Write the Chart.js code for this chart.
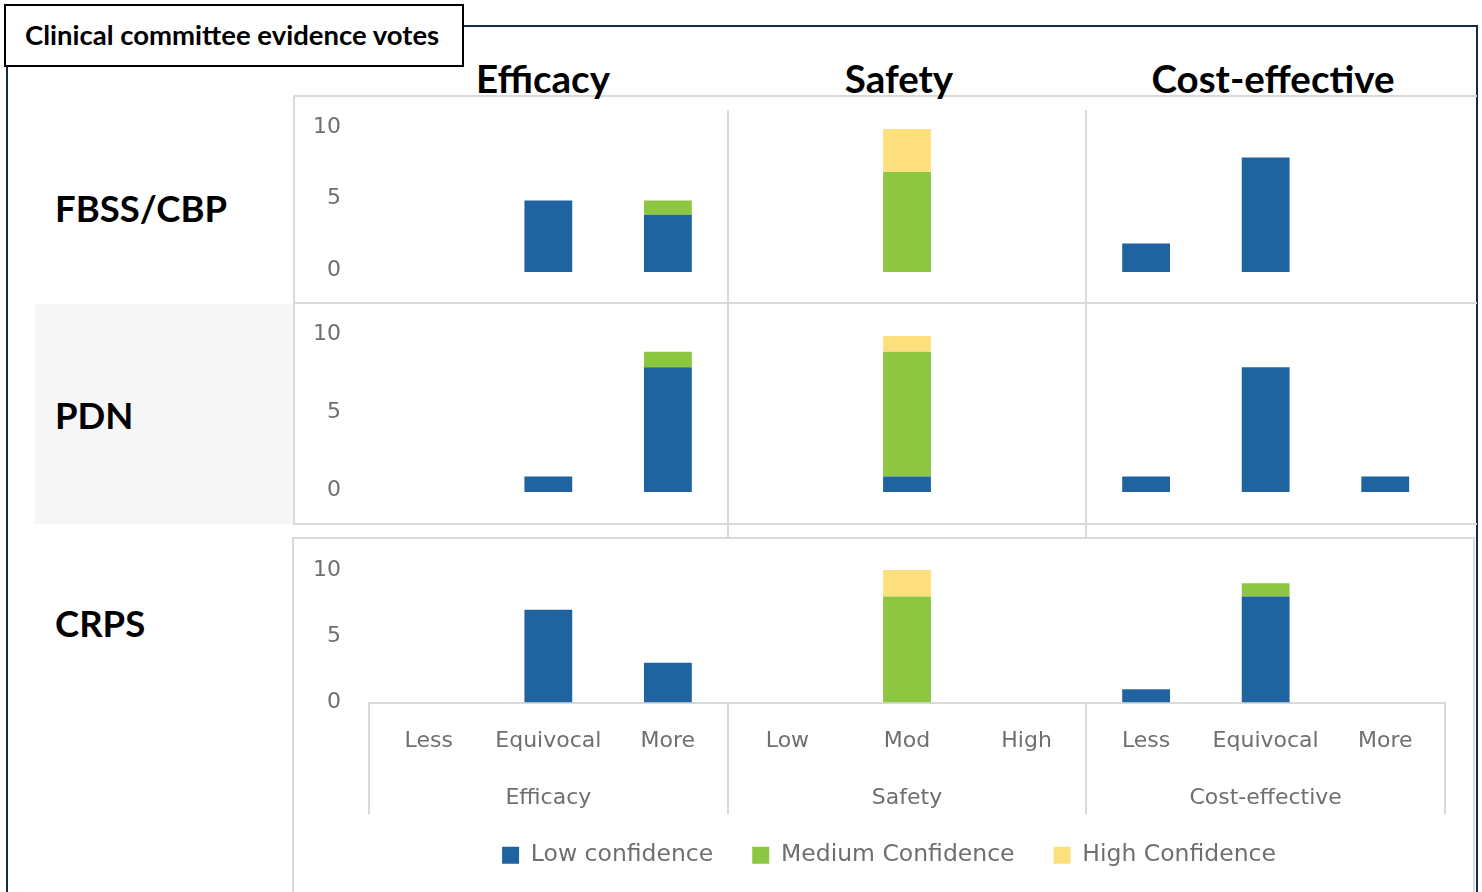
<!DOCTYPE html>
<html><head><meta charset="utf-8">
<script src="https://cdn.jsdelivr.net/npm/chart.js@4.4.1/dist/chart.umd.min.js"></script>
<style>
html,body{margin:0;padding:0;background:#fff;width:1482px;height:892px;overflow:hidden;position:relative;}
.abs{position:absolute;}
.line{position:absolute;background:#d9d9d9;}
#frame{left:6px;top:25px;width:1472px;height:900px;border:2px solid #17294a;box-sizing:border-box;}
#titlebox{left:4px;top:4px;width:460px;height:63px;border:2px solid #000;background:#fff;box-sizing:border-box;
  font:bold 27.5px Lato,sans-serif;color:#000;line-height:57px;padding-left:19px;white-space:nowrap;}
.hdr{position:absolute;font:bold 38.5px Lato,sans-serif;line-height:1;color:#000;transform:translateX(-50%);white-space:nowrap;top:59px;}
.rowlab{position:absolute;left:55px;font:bold 36.5px Lato,sans-serif;color:#000;white-space:nowrap;}
canvas{position:absolute;}
</style>
</head><body>
<script>
// ---- data ----
const categories = ['Less','Equivocal','More','Low','Mod','High','Less','Equivocal','More'];
const groups = ['Efficacy','Safety','Cost-effective'];
const seriesNames = ['Low confidence','Medium Confidence','High Confidence'];
const seriesColors = ['#1F63A0','#8DC641','#FDE07D'];
const yTickValues = [0,5,10];
const rowNames = ['FBSS/CBP','PDN','CRPS'];

const fbssLow  = [0,5,4, 0,0,0, 2,8,0];
const fbssMed  = [0,0,1, 0,7,0, 0,0,0];
const fbssHigh = [0,0,0, 0,3,0, 0,0,0];

const pdnLow  = [0,1,8, 0,1,0, 1,8,1];
const pdnMed  = [0,0,1, 0,8,0, 0,0,0];
const pdnHigh = [0,0,0, 0,1,0, 0,0,0];

const crpsLow  = [0,7,3, 0,0,0, 1,8,0];
const crpsMed  = [0,0,0, 0,8,0, 0,1,0];
const crpsHigh = [0,0,0, 0,2,0, 0,0,0];
</script>

<div id="frame" class="abs"></div>
<div class="abs" style="left:35px;top:304px;width:258px;height:220px;background:#f6f6f6;"></div>
<!-- panel borders -->
<div class="line" style="left:293px;top:95px;width:1184px;height:2px;"></div>
<div class="line" style="left:293px;top:95px;width:2px;height:209px;"></div>
<div class="line" style="left:293px;top:302px;width:1184px;height:2px;"></div>
<div class="line" style="left:293px;top:302px;width:2px;height:223px;"></div>
<div class="line" style="left:293px;top:523px;width:1184px;height:2px;"></div>
<div class="line" style="left:292px;top:537px;width:1183px;height:2px;"></div>
<div class="line" style="left:292px;top:537px;width:2px;height:360px;"></div>
<div class="line" style="left:1473px;top:537px;width:2px;height:360px;"></div>

<div id="titlebox" class="abs">Clinical committee evidence votes</div>
<div class="hdr" style="left:543px;">Efficacy</div>
<div class="hdr" style="left:899px;">Safety</div>
<div class="hdr" style="left:1273px;">Cost-effective</div>
<div class="rowlab" id="r0" style="top:186px;"></div>
<div class="rowlab" id="r1" style="top:393px;"></div>
<div class="rowlab" id="r2" style="top:601px;"></div>

<canvas id="c1" style="left:294px;top:96px;" width="1183" height="207"></canvas>
<canvas id="c2" style="left:294px;top:303px;" width="1183" height="235"></canvas>
<canvas id="c3" style="left:293px;top:538px;" width="1184" height="339"></canvas>

<script>
rowNames.forEach((n,i)=>{document.getElementById('r'+i).textContent=n;});
const GRAY = '#6f6f6f';
const LINE = '#d9d9d9';
const tickFont = {family:'DejaVu Sans', size:22};

function zeroPad(s){ s.paddingTop = 0; s.paddingBottom = 0; s.paddingLeft = 0; s.paddingRight = 0; }
function makeDatasets(low, med, high){
  return [low, med, high].map((d,i)=>({
    label: seriesNames[i], data: d, backgroundColor: seriesColors[i], borderWidth: 0,
    categoryPercentage: 1.0, barPercentage: 0.4
  }));
}
function yScale(min, max, labelOffset, width, pad){
  return {
    stacked: true, min: min, max: max,
    afterBuildTicks: s => { s.ticks = yTickValues.map(v=>({value:v})); },
    afterFit: s => { s.width = width; zeroPad(s); },
    grid: {display:false, drawTicks:false},
    border: {display:false},
    ticks: {color: GRAY, font: tickFont, padding: pad, labelOffset: labelOffset}
  };
}
function topChart(id, low, med, high, min, max, padTop){
  return new Chart(document.getElementById(id), {
    type: 'bar',
    data: {labels: categories, datasets: makeDatasets(low, med, high)},
    options: {
      responsive: false, animation: false,
      layout: {padding: {top: padTop, right: 32, left: 0, bottom: 0}},
      plugins: {legend: {display:false}, tooltip: {enabled:false}},
      scales: {
        x: {
          stacked: true, offset: true,
          afterFit: s => { s.height = 0; zeroPad(s); },
          grid: {offset: true, drawTicks: false, lineWidth: 2,
                 color: c => (c.index === 3 || c.index === 6) ? LINE : 'rgba(0,0,0,0)'},
          border: {display:false},
          ticks: {display:false}
        },
        y: yScale(min, max, -2, 75, 28)
      }
    }
  });
}
topChart('c1', fbssLow, fbssMed, fbssHigh, -2.17, 11.33, 14);
topChart('c2', pdnLow, pdnMed, pdnHigh, -2.95, 12.12, 0);

new Chart(document.getElementById('c3'), {
  type: 'bar',
  data: {labels: categories, datasets: makeDatasets(crpsLow, crpsMed, crpsHigh)},
  options: {
    responsive: false, animation: false,
    layout: {padding: {top: 17, right: 12, left: 20, bottom: 0}},
    plugins: {
      tooltip: {enabled:false},
      legend: {
        position: 'bottom',
        labels: {color: GRAY, font: {family:'DejaVu Sans', size:23.5}, boxWidth:17, boxHeight:17, padding:39}
      }
    },
    scales: {
      x: {
        stacked: true, offset: true,
        afterFit: s => { s.height = 102; zeroPad(s); s.paddingRight = 32; },
        grid: {offset: true, drawOnChartArea: false, tickLength: 112, lineWidth: 2,
               color: c => (c.index === undefined || c.index % 3 === 0) ? LINE : 'rgba(0,0,0,0)'},
        border: {display: true, color: LINE, width: 2},
        ticks: {color: GRAY, font: tickFont, padding: -86, maxRotation: 0, autoSkip: false}
      },
      x2: {
        type: 'category', labels: groups, position: 'bottom', offset: true,
        afterFit: s => { s.height = 0; zeroPad(s); s.paddingRight = 32; },
        grid: {display: false, drawTicks: false},
        border: {display: false},
        ticks: {color: GRAY, font: tickFont, padding: -7, mirror: true}
      },
      y: yScale(0, 11.13, 0, 56, 28)
    }
  }
});
</script>
</body></html>
